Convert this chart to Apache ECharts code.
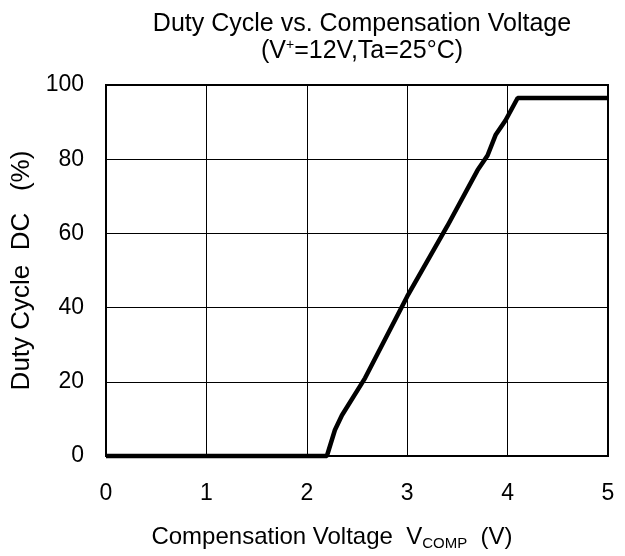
<!DOCTYPE html>
<html>
<head>
<meta charset="utf-8">
<script src="https://cdn.jsdelivr.net/npm/echarts@6/dist/echarts.min.js"></script>
<style>
  html, body { margin: 0; padding: 0; background: #fff; }
  #chart { width: 625px; height: 556px; }
</style>
</head>
<body>
<div id="chart"></div>
<script>
// compensation voltage (V) and duty cycle (%)
const vComp = [0, 2.2, 2.28, 2.35, 2.58, 3.0, 3.4, 3.7, 3.8, 3.88, 3.98, 4.1, 5.0]
const duty = [0, 0, 7, 11, 21, 43, 62, 77, 81, 86.5, 90.5, 96.5, 96.5]

const xTicks = [0, 1, 2, 3, 4, 5]
const yTicks = [0, 20, 40, 60, 80, 100]

const font = '"Liberation Sans", Arial, sans-serif'
const chart = echarts.init(document.getElementById('chart'))

chart.setOption({
  animation: false,
  title: {
    text: '{a|Duty Cycle vs. Compensation Voltage}\n{a|(V}{sup|+}{a|=12V,Ta=25°C)}',
    left: 357,
    top: 6,
    textAlign: 'center',
    textStyle: {
      fontWeight: 'normal',
      rich: {
        a: { fontFamily: font, fontSize: 25, fontWeight: 'normal', color: '#000', lineHeight: 27 },
        sup: { fontFamily: font, fontSize: 14, fontWeight: 'normal', color: '#000', padding: [0, 0, 12, 0], lineHeight: 27 },
      },
    },
  },
  grid: {
    left: 106, right: 17, top: 85, bottom: 97,
    show: true, borderColor: '#000', borderWidth: 2, backgroundColor: 'transparent',
  },
  xAxis: {
    type: 'value',
    min: 0, max: 5, interval: 1,
    name: '{a|Compensation Voltage  V}{sub|COMP}{a|  (V)}',
    nameLocation: 'middle',
    nameGap: 68,
    nameTextStyle: {
      padding: [0, 50, 0, 0],
      rich: {
        a: { fontFamily: font, fontSize: 24, color: '#000' },
        sub: { fontFamily: font, fontSize: 15, color: '#000', padding: [12, 0, 0, 0] },
      },
    },
    axisLine: { show: false },
    axisTick: { show: false },
    axisLabel: {
      color: '#000', fontFamily: font, fontSize: 23, margin: 26,
      formatter: v => xTicks.includes(v) ? String(v) : '',
    },
    splitLine: { lineStyle: { color: '#000', width: 1 } },
  },
  yAxis: {
    type: 'value',
    min: 0, max: 100, interval: 20,
    name: 'Duty Cycle  DC   (%)',
    nameLocation: 'middle',
    nameGap: 68,
    nameTextStyle: { fontFamily: font, fontSize: 26, color: '#000' },
    axisLine: { show: false },
    axisTick: { show: false },
    axisLabel: {
      color: '#000', fontFamily: font, fontSize: 23, margin: 22,
      formatter: v => yTicks.includes(v) ? String(v) : '',
    },
    splitLine: { lineStyle: { color: '#000', width: 1 } },
  },
  series: [{
    type: 'line',
    data: vComp.map((v, i) => [v, duty[i]]),
    showSymbol: false,
    lineStyle: { color: '#000', width: 4.5 },
    clip: false,
  }],
})
</script>
</body>
</html>
